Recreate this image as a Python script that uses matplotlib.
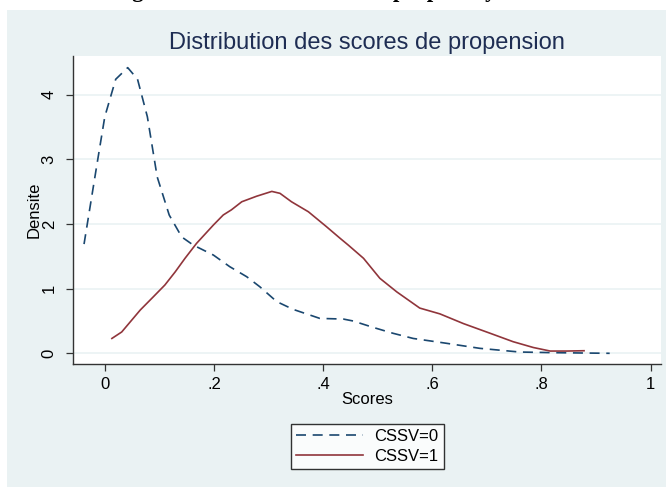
import matplotlib
matplotlib.use('Agg')
from matplotlib import pyplot as plt
from matplotlib.patches import Rectangle

#----------------------------
# Data (kernel density of propensity scores)
#----------------------------

# CSSV=0 (dashed blue)
scores_0 = [-0.038, -0.015, 0.0, 0.02, 0.042, 0.06, 0.078, 0.096, 0.118, 0.141,
            0.162, 0.199, 0.229, 0.26, 0.284, 0.315, 0.345, 0.394, 0.437, 0.455,
            0.492, 0.528, 0.565, 0.626, 0.687, 0.76, 0.822, 0.925]
density_0 = [1.69, 2.89, 3.66, 4.24, 4.42, 4.24, 3.66, 2.73, 2.14, 1.80,
             1.675, 1.52, 1.34, 1.185, 1.03, 0.80, 0.68, 0.54, 0.53, 0.50,
             0.40, 0.31, 0.23, 0.155, 0.077, 0.02, 0.01, 0.0]

# CSSV=1 (solid red)
scores_1 = [0.013, 0.031, 0.065, 0.089, 0.110, 0.129, 0.147, 0.168, 0.199, 0.217,
            0.232, 0.251, 0.278, 0.306, 0.321, 0.342, 0.373, 0.406, 0.431, 0.446,
            0.474, 0.504, 0.535, 0.577, 0.614, 0.657, 0.706, 0.748, 0.785, 0.816,
            0.846, 0.878]
density_1 = [0.23, 0.33, 0.67, 0.875, 1.056, 1.26, 1.47, 1.70, 1.985, 2.14,
             2.22, 2.345, 2.43, 2.505, 2.475, 2.345, 2.19, 1.96, 1.78, 1.675,
             1.47, 1.16, 0.95, 0.70, 0.61, 0.46, 0.31, 0.18, 0.09, 0.035,
             0.035, 0.04]

x_ticks = [0, 0.2, 0.4, 0.6, 0.8, 1.0]
x_ticklabels = ['0', '.2', '.4', '.6', '.8', '1']
y_ticks = [0, 1, 2, 3, 4]
y_ticklabels = ['0', '1', '2', '3', '4']
legend_labels = ['CSSV=0', 'CSSV=1']

#----------------------------
# Figure
#----------------------------

plt.rcParams['font.family'] = ['Liberation Sans', 'DejaVu Sans']

W, H = 666, 493
fig = plt.figure(figsize=(W / 100, H / 100), dpi=100)
fig.patch.set_facecolor('white')

# Stata-like light blue graph region (behind the axes)
fig.patches.append(Rectangle((7 / W, 1 - 487 / H), 1 - 7 / W, (487 - 10) / H,
                             transform=fig.transFigure, facecolor='#EAF2F3',
                             edgecolor='none', zorder=-10))

# cut-off caption line from the document above the graph (only descenders show)
fig.text(112 / W, 1 + 3 / H, 'Figure 2: Distribution of the propensity scores',
         family=['Liberation Serif', 'DejaVu Serif'], fontweight='bold',
         fontsize=16.5, ha='left', va='baseline', color='black')

ax = fig.add_axes([73.4 / W, 1 - 364.3 / H, (661 - 73.4) / W, (364.3 - 56) / H])
ax.set_facecolor('white')

ax.plot(scores_0, density_0, color='#1A476F', linewidth=1.2,
        linestyle=(0, (6, 4)), label=legend_labels[0])
ax.plot(scores_1, density_1, color='#90353B', linewidth=1.2,
        linestyle='-', label=legend_labels[1])

ax.set_xlim(-0.0575, 1.019)
ax.set_ylim(-0.17, 4.6)

ax.set_xticks(x_ticks)
ax.set_xticklabels(x_ticklabels)
ax.set_yticks(y_ticks)
ax.set_yticklabels(y_ticklabels, rotation=90, va='center')

ax.grid(axis='y', color='#EAF2F3', linewidth=1.2)
ax.set_axisbelow(True)

for side in ['top', 'right']:
    ax.spines[side].set_visible(False)
for side in ['left', 'bottom']:
    ax.spines[side].set_color('#333333')
    ax.spines[side].set_linewidth(1.0)

ax.tick_params(axis='both', direction='out', length=5, width=0.9,
               color='#333333', labelsize=12, labelcolor='black', pad=4)
ax.tick_params(axis='y', pad=7)

ax.set_xlabel('Scores', fontsize=12, labelpad=0)
ax.set_ylabel('Densite', fontsize=12, labelpad=0)

ax.set_title('Distribution des scores de propension', fontsize=17,
             color='#1E2D53', pad=5)

leg = fig.legend(loc='center', bbox_to_anchor=(367.5 / W, 1 - 446.5 / H),
                 fontsize=12, frameon=True, fancybox=False, handlelength=4.0,
                 borderpad=0.3, labelspacing=0.3, handletextpad=0.7)
leg.get_frame().set_edgecolor('black')
leg.get_frame().set_linewidth(1.0)
leg.get_frame().set_facecolor('white')

plt.savefig('out.png', dpi=100, facecolor=fig.get_facecolor())
